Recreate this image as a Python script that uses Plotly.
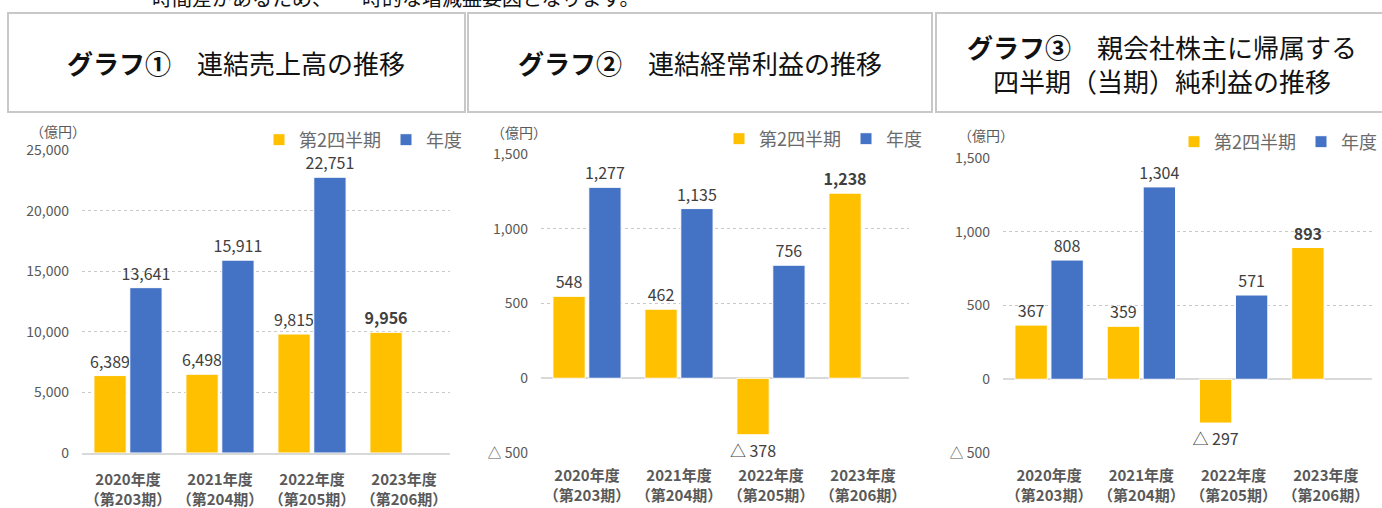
import plotly.graph_objects as go

W, H = 1382, 508

categories = ["2020年度<br>（第203期）", "2021年度<br>（第204期）", "2022年度<br>（第205期）", "2023年度<br>（第206期）"]
series_names = ["第2四半期", "年度"]

sales_q2 = [6389, 6498, 9815, 9956]
sales_fy = [13641, 15911, 22751, None]
ord_q2 = [548, 462, -378, 1238]
ord_fy = [1277, 1135, 756, None]
net_q2 = [367, 359, -297, 893]
net_fy = [808, 1304, 571, None]

sales_ticks = [0, 5000, 10000, 15000, 20000, 25000]
profit_ticks = [-500, 0, 500, 1000, 1500]

titles = [
    "<b>グラフ①</b>　連結売上高の推移",
    "<b>グラフ②</b>　連結経常利益の推移",
    "<b>グラフ③</b>　親会社株主に帰属する<br>四半期（当期）純利益の推移",
]
top_note = "時間差があるため、　一時的な増減益要因となります。"
unit_label = "（億円）"

YELLOW = "#FFC000"
BLUE = "#4472C4"
GRAY = "#595959"
LEG_GRAY = "#6b6b6b"
DARK = "#404040"
FONT = "Noto Sans CJK JP"


def px(x):
    return x / W


def py(y):
    return 1 - y / H


def fmt(v, bold=False):
    if v is None:
        return ""
    s = f"△ {abs(v):,}" if v < 0 else f"{v:,}"
    return f"<b>{s}</b>" if bold else s


def tick_text(v):
    return f"△ {abs(v):,}" if v < 0 else f"{v:,}"


panels = [
    dict(q2=sales_q2, fy=sales_fy, ticks=sales_ticks, rng=[0, 25000],
         xd=[px(82), px(450)], yd=[py(453), py(150)], legend="legend",
         unit=(58, 131), leg=(467, 140), box=(8, 465), title_c=236, title_y=62),
    dict(q2=ord_q2, fy=ord_fy, ticks=profit_ticks, rng=[-500, 1500],
         xd=[px(541), px(909)], yd=[py(453), py(154)], legend="legend2",
         unit=(519, 132), leg=(927, 139), box=(468, 932), title_c=700, title_y=62),
    dict(q2=net_q2, fy=net_fy, ticks=profit_ticks, rng=[-500, 1500],
         xd=[px(1003), px(1372)], yd=[py(453), py(158)], legend="legend3",
         unit=(986, 135), leg=(1382, 142), box=(936, 1400), title_c=1162, title_y=63),
]

fig = go.Figure()
layout = {}
shapes = []
annotations = []

for i, p in enumerate(panels):
    n = "" if i == 0 else str(i + 1)
    xa, ya = "x" + n, "y" + n
    last = len(categories) - 1
    fig.add_trace(go.Bar(
        x=categories, y=p["q2"], name=series_names[0], xaxis=xa, yaxis=ya,
        marker=dict(color=YELLOW, line=dict(color="white", width=1)),
        text=[fmt(v, j == last) for j, v in enumerate(p["q2"])],
        textposition="outside", cliponaxis=False, constraintext="none",
        textfont=dict(color=DARK, size=16, family=FONT),
        legend=p["legend"], showlegend=True, hoverinfo="skip",
    ))
    fig.add_trace(go.Bar(
        x=categories, y=p["fy"], name=series_names[1], xaxis=xa, yaxis=ya,
        marker=dict(color=BLUE, line=dict(color="white", width=1)),
        text=[fmt(v) for v in p["fy"]],
        textposition="outside", cliponaxis=False, constraintext="none",
        textfont=dict(color=DARK, size=16, family=FONT),
        legend=p["legend"], showlegend=True, hoverinfo="skip",
    ))
    layout["xaxis" + n] = dict(
        domain=p["xd"], anchor=ya, showgrid=False, zeroline=False,
        showline=(i == 0), linecolor="#d9d9d9", linewidth=2,
        tickfont=dict(color=GRAY, size=15, family=FONT, weight="bold"),
        tickangle=0,
        ticks="", fixedrange=True, ticklabelstandoff=12, automargin=False,
    )
    layout["yaxis" + n] = dict(
        domain=p["yd"], anchor=xa, range=p["rng"],
        tickvals=p["ticks"], ticktext=[tick_text(v) for v in p["ticks"]],
        tickfont=dict(color=GRAY, size=14, family=FONT),
        showgrid=True, gridcolor="#c9c9c9", griddash="dot", gridwidth=1,
        zeroline=(i != 0), zerolinecolor="#d9d9d9", zerolinewidth=2,
        showline=False, ticks="", ticklabelstandoff=12, fixedrange=True,
        automargin=False,
    )
    layout[p["legend"]] = dict(
        orientation="h", x=px(p["leg"][0]), y=py(p["leg"][1]),
        xanchor="right", yanchor="middle", itemwidth=30,
        font=dict(color=LEG_GRAY, size=18, family=FONT),
        bgcolor="rgba(0,0,0,0)", tracegroupgap=0,
    )
    annotations.append(dict(
        text=unit_label, x=px(p["unit"][0]), y=py(p["unit"][1]),
        xref="paper", yref="paper", showarrow=False,
        xanchor="center", yanchor="middle",
        font=dict(color=GRAY, size=14, family=FONT),
    ))
    x0, x1 = p["box"]
    shapes.append(dict(
        type="rect", xref="paper", yref="paper",
        x0=px(x0), x1=px(x1), y0=py(112), y1=py(13),
        line=dict(color="#c8c8c8", width=2), fillcolor="white", layer="below",
    ))
    annotations.append(dict(
        text=titles[i], x=px(p["title_c"]), y=py(p["title_y"]),
        xref="paper", yref="paper", showarrow=False,
        xanchor="center", yanchor="middle",
        font=dict(color="#111111", size=26, family=FONT),
        align="center",
    ))

annotations.append(dict(
    text=top_note, x=px(150), y=py(-3), xref="paper", yref="paper",
    xanchor="left", yanchor="middle", showarrow=False,
    font=dict(color="#111111", size=20, family=FONT),
))

fig.update_layout(
    width=W, height=H, margin=dict(l=0, r=0, t=0, b=0, autoexpand=False),
    paper_bgcolor="white", plot_bgcolor="white",
    barmode="group", bargap=0.22, bargroupgap=0.1,
    shapes=shapes, annotations=annotations,
    font=dict(family=FONT),
    **layout,
)

fig.write_html("out.html")
